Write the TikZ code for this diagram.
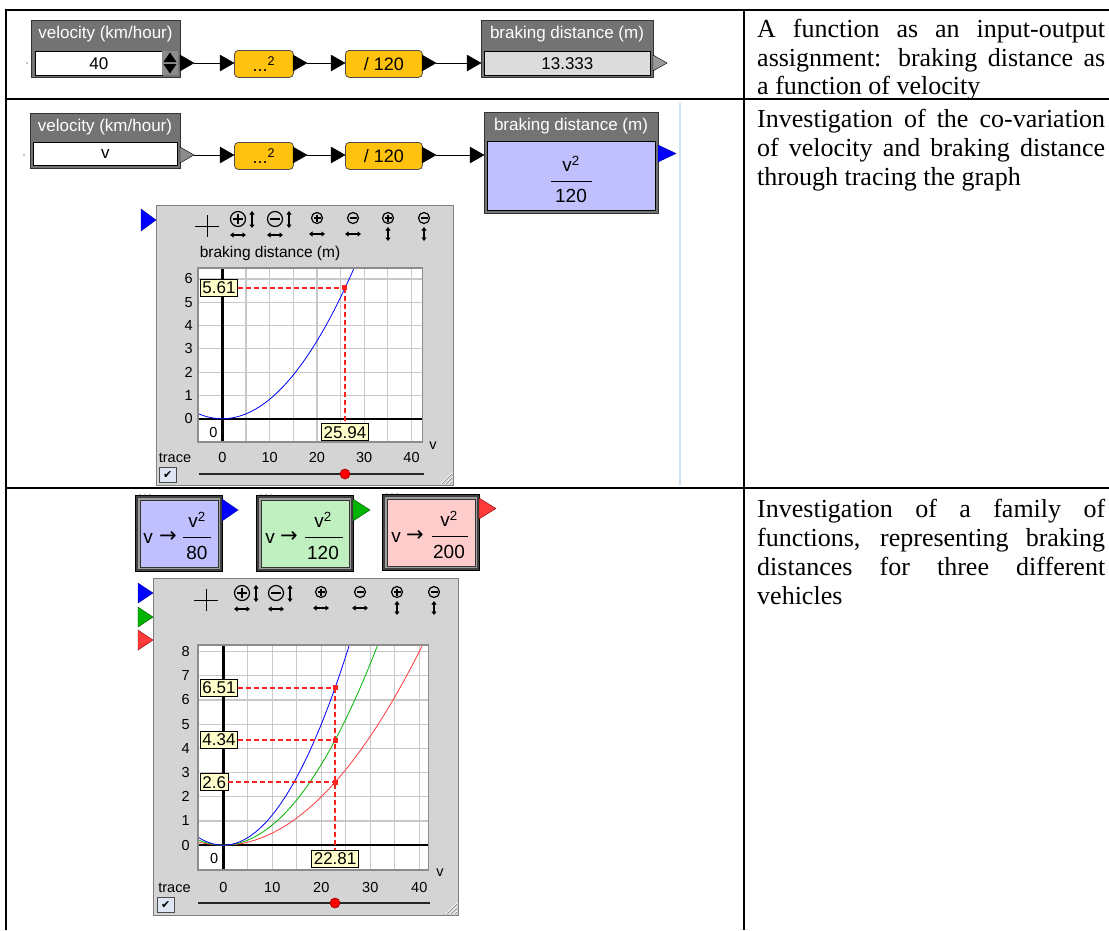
\documentclass[tikz,border=0pt]{standalone}
\usepackage{fontspec}
\setmainfont{Liberation Serif}
\newfontfamily\wfont{Liberation Sans}
\newfontfamily\djv{DejaVu Sans}
\usetikzlibrary{arrows.meta}
\definecolor{ttl}{HTML}{737373}
\definecolor{ybox}{HTML}{FFC20E}
\definecolor{lav}{HTML}{C0C0FF}
\definecolor{lgreen}{HTML}{C0F0C0}
\definecolor{lpink}{HTML}{FFCCCC}
\definecolor{panel}{HTML}{D4D4D4}
\definecolor{gridc}{HTML}{C8C8C8}
\definecolor{lbly}{HTML}{FFFFCC}
\definecolor{fieldg}{HTML}{DCDCDC}
\definecolor{sepblue}{HTML}{D0E2F2}
\definecolor{cgreen}{HTML}{00B400}
\definecolor{cred}{HTML}{FF3A3A}
\definecolor{chk}{HTML}{DDE6F2}
\definecolor{trred}{HTML}{FF2020}
\tikzset{
  tabline/.style={line width=2.2pt, black},
  wbox/.style={draw=black!80, fill=ttl, line width=0.8pt, inner sep=0pt, anchor=north west},
  wtitle/.style={font=\wfont\fontsize{17}{17}\selectfont, text=white, inner sep=0pt},
  wfield/.style={draw=black, line width=0.8pt, inner sep=0pt, anchor=north west, font=\wfont\fontsize{17}{17}\selectfont},
  ybx/.style={draw=black!70, fill=ybox, rounded corners=4pt, line width=0.8pt, inner sep=0pt, anchor=north west, font=\wfont\fontsize{18}{18}\selectfont},
  conn/.style={line width=1pt, black},
  gtxt/.style={font=\wfont\fontsize{14.5}{14.5}\selectfont, inner sep=0pt},
  lbl/.style={draw=black, fill=lbly, line width=0.8pt, font=\wfont\fontsize{17}{17}\selectfont, inner xsep=2pt, inner ysep=2.5pt},
  trc/.style={color=trred, line width=1.6pt, dash pattern=on 5pt off 3pt},
  gridl/.style={gridc, line width=1.2pt},
  axl/.style={black, line width=2.4pt},
  icon/.style={draw=black, line width=1.2pt},
  dar/.style={icon, line width=1.1pt, {Triangle[length=3.5pt,width=5pt]}-{Triangle[length=3.5pt,width=5pt]}},
  rtext/.style={font=\fontsize{26}{29}\selectfont, inner sep=0pt, anchor=base west},
  ftxt/.style={font=\wfont\fontsize{19}{19}\selectfont, inner sep=0pt},
}
\newcommand{\otri}[3]{\filldraw[fill=#3, draw=black, line width=0.4pt] (#1,#2-8) -- (#1+14,#2) -- (#1,#2+8) -- cycle;}
\newcommand{\tbicons}[8]{%
 \draw[icon, line width=1pt] (#2-12,#1+7) -- (#2+12,#1+7) (#2,#1-4) -- (#2,#1+18);
 \draw[icon] (#3,#1) circle[radius=7.5];
 \draw[icon] (#3-5,#1) -- (#3+5,#1) (#3,#1-5) -- (#3,#1+5);
 \draw[dar] (#3+14,#1-8) -- (#3+14,#1+9);
 \draw[dar] (#3-8,#1+16) -- (#3+8,#1+16);
 \draw[icon] (#4,#1) circle[radius=7.5];
 \draw[icon] (#4-5,#1) -- (#4+5,#1);
 \draw[dar] (#4+14,#1-8) -- (#4+14,#1+9);
 \draw[dar] (#4-8,#1+16) -- (#4+8,#1+16);
 \draw[icon] (#5,#1-1) circle[radius=5.5];
 \draw[icon] (#5-3.5,#1-1) -- (#5+3.5,#1-1) (#5,#1-4.5) -- (#5,#1+2.5);
 \draw[dar] (#5-8,#1+15) -- (#5+8,#1+15);
 \draw[icon] (#6,#1-1) circle[radius=5.5];
 \draw[icon] (#6-3.5,#1-1) -- (#6+3.5,#1-1);
 \draw[dar] (#6-8,#1+15) -- (#6+8,#1+15);
 \draw[icon] (#7,#1-1) circle[radius=5.5];
 \draw[icon] (#7-3.5,#1-1) -- (#7+3.5,#1-1) (#7,#1-4.5) -- (#7,#1+2.5);
 \draw[dar] (#7,#1+8) -- (#7,#1+22);
 \draw[icon] (#8,#1-1) circle[radius=5.5];
 \draw[icon] (#8-3.5,#1-1) -- (#8+3.5,#1-1);
 \draw[dar] (#8,#1+8) -- (#8,#1+22);
}
\begin{document}
\begin{tikzpicture}[x=1pt,y=-1pt]
\useasboundingbox (0,0) rectangle (1109,930);
\fill[white] (0,0) rectangle (1109,930);

% ---------------- Row 1 ----------------
\fill[black!50] (27,63) circle (0.9);
\node[wbox, minimum width=149pt, minimum height=57pt] (vel1) at (31,20) {};
\node[wtitle] (vel1t) at (105.5,34.5) {velocity (km/hour)};
\node[wfield, fill=white, minimum width=127pt, minimum height=24pt] (vel1f) at (35,51) {40};
\fill[black!45] (162,51) rectangle (178,75);
\fill (163.5,62) -- (170,52.5) -- (176.5,62) -- cycle;
\fill (163.5,64) -- (176.5,64) -- (170,73.5) -- cycle;
\otri{180}{63}{black}
\coordinate (r1a) at (194,63); \coordinate (r1b) at (220,63);
\draw[conn] (r1a) -- (r1b);
\otri{220}{63}{black}
\node[ybx, minimum width=59pt, minimum height=27pt] (sq1) at (234,50) {...\textsuperscript{2}};
\otri{293}{63}{black}
\coordinate (r1c) at (307,63); \coordinate (r1d) at (331,63);
\draw[conn] (r1c) -- (r1d);
\otri{331}{63}{black}
\node[ybx, minimum width=77pt, minimum height=27pt] (dv1) at (345,50) {/ 120};
\otri{422}{63}{black}
\coordinate (r1e) at (436,63); \coordinate (r1f) at (467,63);
\draw[conn] (r1e) -- (r1f);
\otri{467}{63}{black}
\node[wbox, minimum width=172pt, minimum height=57pt] (br1) at (481,20) {};
\node[wtitle] (br1t) at (567,34.5) {braking distance (m)};
\node[wfield, fill=fieldg, minimum width=166pt, minimum height=24pt] (br1f) at (484,51) {13.333};
\otri{653}{63}{black!40}

% ---------------- Row 2 ----------------
\draw[sepblue, line width=1.6pt] (680,103) -- (680,485);
\fill[black!50] (24,155) circle (0.9);
\node[wbox, minimum width=150pt, minimum height=55pt] (vel2) at (30,113) {};
\node[wtitle] (vel2t) at (105,127) {velocity (km/hour)};
\node[wfield, fill=white, minimum width=144pt, minimum height=23pt] (vel2f) at (33,142) {v};
\otri{180}{155}{black!45}
\coordinate (r2a) at (194,155); \coordinate (r2b) at (220,155);
\draw[conn] (r2a) -- (r2b);
\otri{220}{155}{black}
\node[ybx, minimum width=59pt, minimum height=27pt] (sq2) at (234,142) {...\textsuperscript{2}};
\otri{293}{155}{black}
\coordinate (r2c) at (307,155); \coordinate (r2d) at (331,155);
\draw[conn] (r2c) -- (r2d);
\otri{331}{155}{black}
\node[ybx, minimum width=77pt, minimum height=27pt] (dv2) at (345,142) {/ 120};
\otri{422}{155}{black}
\coordinate (r2e) at (436,155); \coordinate (r2f) at (470,155);
\draw[conn] (r2e) -- (r2f);
\otri{470}{155}{black}
\node[wbox, minimum width=174pt, minimum height=101pt] (br2) at (484,112) {};
\node[wtitle] (br2t) at (571,126.5) {braking distance (m)};
\node[wfield, fill=lav, minimum width=168pt, minimum height=69pt] (br2f) at (487,141) {};
\node[ftxt] (br2n) at (571,164) {v\textsuperscript{2}};
\draw[line width=1pt] (551,181) -- (592,181);
\node[ftxt] (br2d) at (571,196) {120};
\filldraw[fill=blue, draw=blue!60!black, line width=0.4pt] (658,145) -- (676,153.5) -- (658,162) -- cycle;

% ---------------- Graph 1 ----------------
\node[draw=black!50, fill=panel, line width=1pt, minimum width=297pt, minimum height=280pt, anchor=north west, inner sep=0pt] (pan1) at (156,205) {};
\filldraw[fill=blue, draw=blue!60!black, line width=0.4pt] (141,209) -- (156,220) -- (141,231) -- cycle;
\tbicons{219}{207}{238}{275}{317}{353}{388}{424}
\node[gtxt, font=\wfont\fontsize{15.5}{15.5}\selectfont] (g1ttl) at (270,253) {braking distance (m)};
\begin{scope}[shift={(222.3pt,-418.7pt)}, x=4.73pt, y=23.3pt]
 \fill[white] (-5.12,-1.0) rectangle (42.4,6.47);
 \foreach \gx in {-5,0,...,40} \draw[gridl] (\gx,-1.0) -- (\gx,6.47);
 \foreach \gy in {-1,...,6} \draw[gridl] (-5.12,\gy) -- (42.4,\gy);
 \draw[axl] (-5.12,0) -- (42.4,0);
 \draw[axl] (0,-1.0) -- (0,6.47);
 \draw[blue, line width=0.8pt, domain=-5.12:27.9, samples=80, smooth] plot (\x,{\x*\x/120});
 \draw[black!45, line width=1.2pt] (-5.12,-1.0) rectangle (42.4,6.47);
 \node[gtxt, fill=white, inner sep=1pt] (g1o) at (-1.9,-0.61) {0};
 \coordinate (g1p) at (25.94,5.61);
 \node[lbl, anchor=west] (g1ly) at (-4.7,5.61) {5.61};
 \node[lbl, anchor=north] (g1lx) at (25.94,-0.2) {25.94};
 \draw[trc] (g1ly.east) -- (g1p);
 \draw[trc] (g1p) -- (g1lx.north);
 \fill[trred] (g1p) ++(-2.5pt,-2.5pt) rectangle ++(5pt,5pt);
 \foreach \gy in {0,...,6} \node[gtxt, anchor=east] (g1y\gy) at (-6.2,\gy) {\gy};
 \foreach \gx in {0,10,...,40} \node[gtxt] (g1x\gx) at (\gx,-1.68) {\gx};
\end{scope}
\node[gtxt] (g1v) at (433,446) {v};
\node[gtxt] (g1tr) at (175,458) {trace};
\node[draw=black!70, fill=chk, minimum width=17pt, minimum height=15pt, inner sep=0pt, anchor=north west, font=\djv\fontsize{11}{11}\selectfont] (g1ck) at (159,467) {✔};
\draw[black!85, line width=1.3pt] (199,474) -- (424,474);
\filldraw[fill=red, draw=red!60!black, line width=0.6pt] (345,474) circle (5);
\draw[white, line width=0.8pt] (441,484) -- (452,473) (445,484) -- (452,477) (449,484) -- (452,481);
\draw[black!50, line width=0.6pt] (442,484) -- (452,474) (446,484) -- (452,478) (450,484) -- (452,482);

% ---------------- Row 3 function boxes ----------------
\filldraw[fill=black!75, draw=black] (135,495) rectangle (222,571);
\fill[black!38] (137.5,497.5) rectangle (219.5,568.5);
\node[draw=black!80, fill=lav, line width=0.8pt, anchor=north west, minimum width=78pt, minimum height=67pt, inner sep=0pt] (fn1) at (139.5,499.5) {};
\fill[black!30] (140,494.5) circle (0.8) (145,494.5) circle (0.8) (150,494.5) circle (0.8);
\node[ftxt] (f1v) at (148,538) {v};
\node[ftxt, font=\djv\fontsize{21}{21}\selectfont] (f1a) at (168,537) {→};
\node[ftxt] (f1n) at (197,520) {v\textsuperscript{2}};
\draw[line width=1pt] (183,537) -- (211,537);
\node[ftxt] (f1d) at (197,553) {80};
\filldraw[fill=blue, draw=blue!60!black, line width=0.4pt] (222,499) -- (238,510) -- (222,521) -- cycle;

\filldraw[fill=black!75, draw=black] (256,495) rectangle (353,571);
\fill[black!38] (258.5,497.5) rectangle (350.5,568.5);
\node[draw=black!80, fill=lgreen, line width=0.8pt, anchor=north west, minimum width=88pt, minimum height=67pt, inner sep=0pt] (fn2) at (260.5,499.5) {};
\fill[black!30] (261,494.5) circle (0.8) (266,494.5) circle (0.8) (271,494.5) circle (0.8);
\node[ftxt] (f2v) at (270,538) {v};
\node[ftxt, font=\djv\fontsize{21}{21}\selectfont] (f2a) at (289,537) {→};
\node[ftxt] (f2n) at (323,520) {v\textsuperscript{2}};
\draw[line width=1pt] (305,537) -- (343,537);
\node[ftxt] (f2d) at (323,553) {120};
\filldraw[fill=cgreen, draw=green!30!black, line width=0.4pt] (353,499) -- (370,510) -- (353,521) -- cycle;

\filldraw[fill=black!75, draw=black] (382,494) rectangle (479,570);
\fill[black!38] (384.5,496.5) rectangle (476.5,567.5);
\node[draw=black!80, fill=lpink, line width=0.8pt, anchor=north west, minimum width=88pt, minimum height=67pt, inner sep=0pt] (fn3) at (386.5,498.5) {};
\fill[black!30] (387,493.5) circle (0.8) (392,493.5) circle (0.8) (397,493.5) circle (0.8);
\node[ftxt] (f3v) at (396,537) {v};
\node[ftxt, font=\djv\fontsize{21}{21}\selectfont] (f3a) at (415,536) {→};
\node[ftxt] (f3n) at (449,519) {v\textsuperscript{2}};
\draw[line width=1pt] (432,536) -- (468,536);
\node[ftxt] (f3d) at (449,552) {200};
\filldraw[fill=cred, draw=red!50!black, line width=0.4pt] (479,498) -- (496,508.5) -- (479,519) -- cycle;

% ---------------- Graph 2 ----------------
\node[draw=black!50, fill=panel, line width=1pt, minimum width=305pt, minimum height=337pt, anchor=north west, inner sep=0pt] (pan2) at (153,578) {};
\filldraw[fill=blue, draw=blue!60!black, line width=0.4pt] (138,583) -- (153,593) -- (138,603) -- cycle;
\filldraw[fill=cgreen, draw=green!30!black, line width=0.4pt] (138,607) -- (153,617) -- (138,627) -- cycle;
\filldraw[fill=cred, draw=red!50!black, line width=0.4pt] (138,630) -- (153,640) -- (138,650) -- cycle;
\tbicons{593}{206}{242}{276}{321}{360}{397}{434}
\begin{scope}[shift={(223.3pt,-845.15pt)}, x=4.9pt, y=24.2pt]
 \fill[white] (-5.16,-1.03) rectangle (41.8,8.27);
 \foreach \gx in {-5,0,...,40} \draw[gridl] (\gx,-1.03) -- (\gx,8.27);
 \foreach \gy in {-1,...,8} \draw[gridl] (-5.16,\gy) -- (41.8,\gy);
 \draw[axl] (-5.16,0) -- (41.8,0);
 \draw[axl] (0,-1.03) -- (0,8.27);
 \draw[cred, line width=0.8pt, domain=-5.16:40.67, samples=80, smooth] plot (\x,{\x*\x/200});
 \draw[cgreen, line width=0.8pt, domain=-5.16:31.5, samples=80, smooth] plot (\x,{\x*\x/120});
 \draw[blue, line width=0.8pt, domain=-5.16:25.72, samples=80, smooth] plot (\x,{\x*\x/80});
 \draw[black!45, line width=1.2pt] (-5.16,-1.03) rectangle (41.8,8.27);
 \node[gtxt, fill=white, inner sep=1pt] (g2o) at (-1.85,-0.55) {0};
 \coordinate (g2pa) at (22.81,6.50);
 \coordinate (g2pb) at (22.81,4.34);
 \coordinate (g2pc) at (22.81,2.60);
 \node[lbl, anchor=west] (g2la) at (-4.76,6.50) {6.51};
 \node[lbl, anchor=west] (g2lb) at (-4.76,4.34) {4.34};
 \node[lbl, anchor=west] (g2lc) at (-4.76,2.60) {2.6};
 \node[lbl, anchor=north] (g2lx) at (22.81,-0.2) {22.81};
 \draw[trc] (g2la.east) -- (g2pa);
 \draw[trc] (g2pa) -- (g2lx.north);
 \draw[trc] (g2lb.east) -- (g2pb);
 \draw[trc] (g2lc.east) -- (g2pc);
 \fill[trred] (g2pa) ++(-2.5pt,-2.5pt) rectangle ++(5pt,5pt);
 \fill[trred] (g2pb) ++(-2.5pt,-2.5pt) rectangle ++(5pt,5pt);
 \fill[trred] (g2pc) ++(-2.5pt,-2.5pt) rectangle ++(5pt,5pt);
 \foreach \gy in {0,...,8} \node[gtxt, anchor=east] (g2y\gy) at (-6.8,\gy) {\gy};
 \foreach \gx in {0,10,...,40} \node[gtxt] (g2x\gx) at (\gx,-1.77) {\gx};
\end{scope}
\node[gtxt] (g2v) at (440,873) {v};
\node[gtxt] (g2tr) at (174.5,888) {trace};
\node[draw=black!70, fill=chk, minimum width=17pt, minimum height=15pt, inner sep=0pt, anchor=north west, font=\djv\fontsize{11}{11}\selectfont] (g2ck) at (157,897) {✔};
\draw[black!85, line width=1.3pt] (198,903) -- (430,903);
\filldraw[fill=red, draw=red!60!black, line width=0.6pt] (335,903) circle (5);
\draw[white, line width=0.8pt] (446,914) -- (457,903) (450,914) -- (457,907) (454,914) -- (457,911);
\draw[black!50, line width=0.6pt] (447,914) -- (457,904) (451,914) -- (457,908) (455,914) -- (457,912);

% ---------------- Right column text ----------------
\node[rtext] (t1a) at (757,37) {\makebox[348pt][s]{A function as an input-output}};
\node[rtext] (t1b) at (757,66) {\makebox[348pt][s]{assignment: braking distance as}};
\node[rtext] (t1c) at (757,94) {a function of velocity};
\node[rtext] (t2a) at (757,127) {\makebox[348pt][s]{Investigation of the co-variation}};
\node[rtext] (t2b) at (757,156) {\makebox[348pt][s]{of velocity and braking distance}};
\node[rtext] (t2c) at (757,185) {through tracing the graph};
\node[rtext] (t3a) at (757,517) {\makebox[348pt][s]{Investigation of a family of}};
\node[rtext] (t3b) at (757,546) {\makebox[348pt][s]{functions, representing braking}};
\node[rtext] (t3c) at (757,575) {\makebox[348pt][s]{distances for three different}};
\node[rtext] (t3d) at (757,604) {vehicles};

% ---------------- Table lines ----------------
\draw[tabline] (5,10) -- (1109,10);
\draw[tabline] (6,9) -- (6,930);
\draw[tabline] (744,10) -- (744,930);
\draw[tabline] (5,99) -- (1109,99);
\draw[tabline] (5,488) -- (1109,488);
\end{tikzpicture}
\end{document}
